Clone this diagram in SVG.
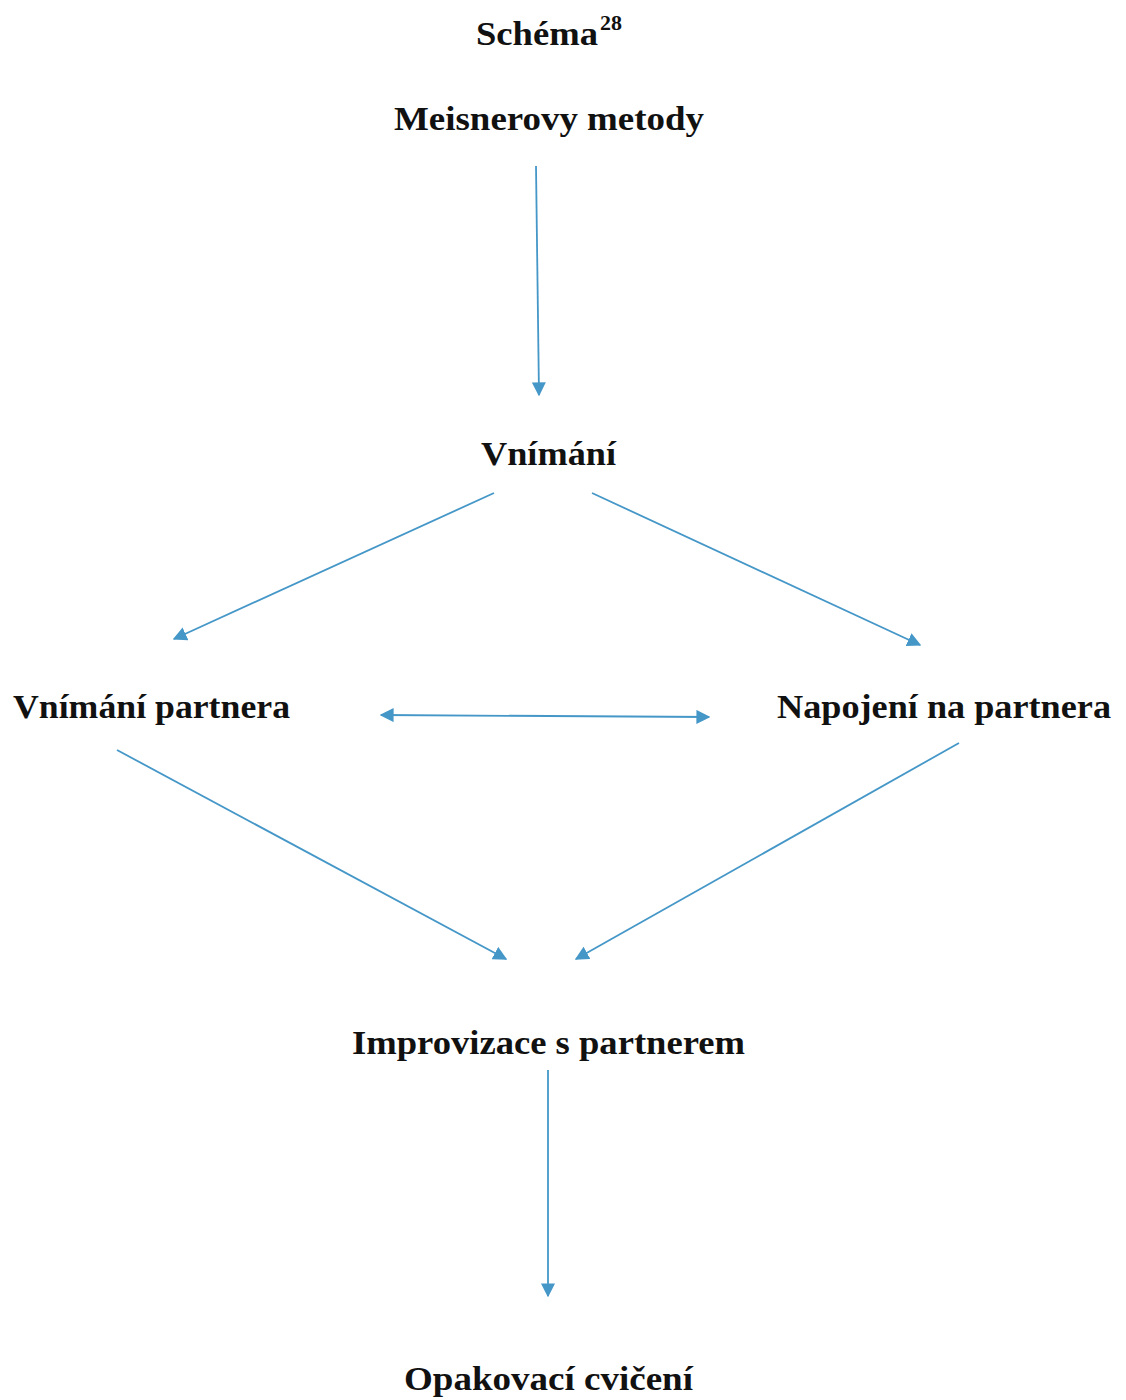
<svg xmlns="http://www.w3.org/2000/svg" width="1126" height="1400" viewBox="0 0 1126 1400">
<style>
.t{font-family:"Liberation Serif","DejaVu Serif",serif;font-weight:bold;font-size:34px;fill:#111;}
.c{stroke:#4597C8;stroke-width:1.8;fill:none;}
</style>
<defs>
<marker id="ah" viewBox="0 0 10 10" refX="9" refY="5" markerWidth="14" markerHeight="14" markerUnits="userSpaceOnUse" orient="auto-start-reverse">
<path d="M0,0 L10,5 L0,10 Z" fill="#4597C8"/>
</marker>
</defs>
<rect width="1126" height="1400" fill="#fff"/>
<g id="title"><text class="t" x="476" y="45" textLength="122" lengthAdjust="spacingAndGlyphs">Schéma</text><text class="t" x="600" y="30" style="font-size:20px" textLength="22" lengthAdjust="spacingAndGlyphs">28</text></g>
<g id="n-meisner"><text class="t" x="394" y="130" textLength="310" lengthAdjust="spacingAndGlyphs">Meisnerovy metody</text></g>
<g id="n-vnimani"><text class="t" x="481" y="465" textLength="135" lengthAdjust="spacingAndGlyphs">Vnímání</text></g>
<g id="n-vnimani-partnera"><text class="t" x="13" y="718" textLength="277" lengthAdjust="spacingAndGlyphs">Vnímání partnera</text></g>
<g id="n-napojeni"><text class="t" x="777" y="718" textLength="334" lengthAdjust="spacingAndGlyphs">Napojení na partnera</text></g>
<g id="n-improvizace"><text class="t" x="352" y="1054" textLength="393" lengthAdjust="spacingAndGlyphs">Improvizace s partnerem</text></g>
<g id="n-opakovaci"><text class="t" x="404" y="1390" textLength="289" lengthAdjust="spacingAndGlyphs">Opakovací cvičení</text></g>
<g id="connectors">
<line class="c" x1="536" y1="166" x2="539" y2="395" marker-end="url(#ah)"/>
<line class="c" x1="494" y1="493" x2="174" y2="639" marker-end="url(#ah)"/>
<line class="c" x1="592" y1="493" x2="920" y2="645" marker-end="url(#ah)"/>
<line class="c" x1="381" y1="715" x2="709" y2="717" marker-start="url(#ah)" marker-end="url(#ah)"/>
<line class="c" x1="117" y1="750" x2="506" y2="959" marker-end="url(#ah)"/>
<line class="c" x1="959" y1="743" x2="576" y2="959" marker-end="url(#ah)"/>
<line class="c" x1="548" y1="1070" x2="548" y2="1296" marker-end="url(#ah)"/>
</g>
</svg>
